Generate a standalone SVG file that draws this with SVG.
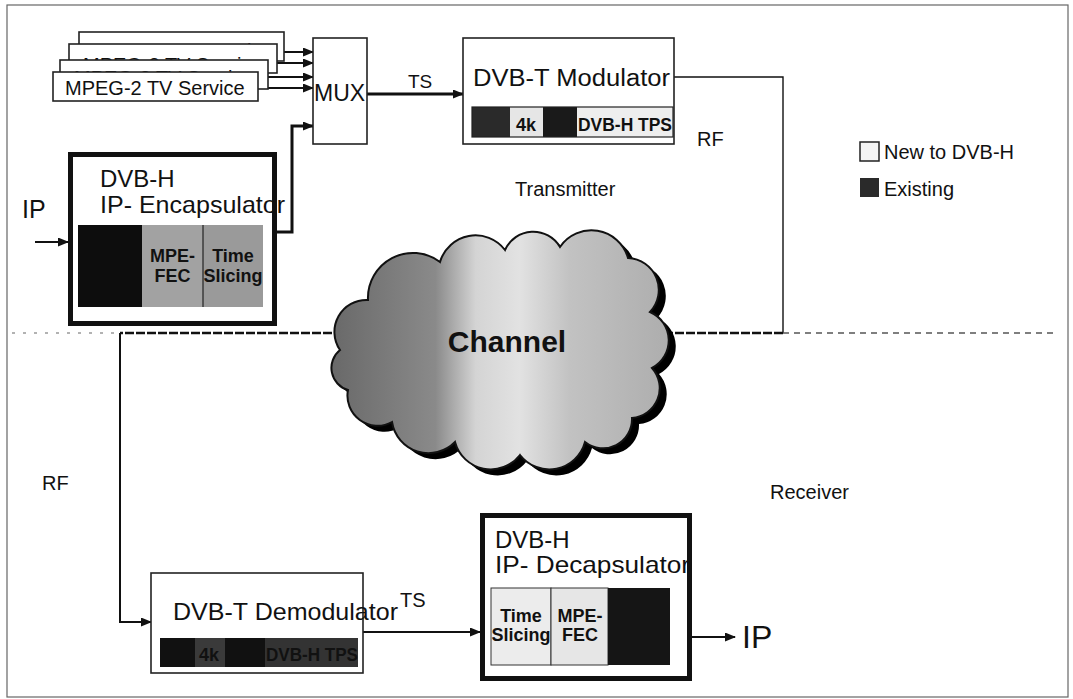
<svg xmlns="http://www.w3.org/2000/svg" width="1073" height="699" viewBox="0 0 1073 699">
<style>
text{font-family:"Liberation Sans",Arial,sans-serif;fill:#111}
.box{fill:#fff;stroke:#222;stroke-width:1.6}
.thick{fill:#fff;stroke:#111;stroke-width:5}
.lbl{font-size:24px}
.blk{font-weight:bold;font-size:18px}
.c{fill:none;stroke:#111;stroke-width:2}
.c3{fill:none;stroke:#111;stroke-width:3}
</style>
<defs>
<marker id="ah" markerUnits="userSpaceOnUse" markerWidth="11" markerHeight="9" refX="10" refY="4.5" orient="auto"><path d="M0,0 L11,4.5 L0,9 z" fill="#111"/></marker>
<linearGradient id="cg" gradientUnits="userSpaceOnUse" x1="335" y1="0" x2="670" y2="0">
<stop offset="0" stop-color="#6a6a6a"/><stop offset="0.3" stop-color="#8a8a8a"/><stop offset="0.42" stop-color="#d4d4d4"/><stop offset="0.55" stop-color="#e2e2e2"/><stop offset="0.7" stop-color="#c2c2c2"/><stop offset="1" stop-color="#adadad"/>
</linearGradient>
</defs>
<rect x="7" y="5" width="1061" height="692" fill="#fff" stroke="#666" stroke-width="1.2"/>

<g id="connectors">
<path class="c" d="M284,52 H313" marker-end="url(#ah)"/>
<path class="c" d="M277,63 H313" marker-end="url(#ah)"/>
<path class="c" d="M268,77 H313" marker-end="url(#ah)"/>
<path class="c" d="M258,88 H313" marker-end="url(#ah)"/>
<path class="c3" d="M277,232 H292 V126 H313" marker-end="url(#ah)"/>
<path class="c3" d="M367,94 H463" marker-end="url(#ah)"/>
<path class="c" d="M35,242 H68" marker-end="url(#ah)"/>
<path fill="none" stroke="#111" stroke-width="1.4" d="M674,77 H783 V333"/>
<path fill="none" stroke="#111" stroke-width="2.6" stroke-dasharray="9 2" d="M783,333 H120"/>
<path class="c" d="M120,333 V622 H151" marker-end="url(#ah)"/>
<path fill="none" stroke="#555" stroke-width="1.3" stroke-dasharray="6 5" d="M783,333 H1058"/>
<path fill="none" stroke="#999" stroke-width="1.3" stroke-dasharray="3 8" d="M12,333 H120"/>
<path class="c" d="M363,632 H480" marker-end="url(#ah)"/>
<path class="c" d="M692,637 H735" marker-end="url(#ah)"/>
</g>

<g id="mpeg-services">
<rect class="box" x="79" y="32" width="205" height="29"/>
<text x="93" y="58" font-size="20">MPEG-2 TV Service</text>
<rect class="box" x="69" y="44" width="208" height="29"/>
<text x="83" y="72" font-size="20">MPEG-2 TV Service</text>
<rect class="box" x="60" y="60" width="208" height="29"/>
<text x="74" y="85" font-size="20">MPEG-2 TV Service</text>
<rect class="box" x="53" y="72" width="205" height="29"/>
<text x="65" y="95" font-size="20">MPEG-2 TV Service</text>
</g>

<g id="mux">
<rect class="box" x="313" y="38" width="54" height="106"/>
<text x="314" y="101" font-size="23">MUX</text>
</g>

<g id="ts-label"><text x="408" y="88" font-size="19">TS</text></g>

<g id="modulator">
<rect class="box" x="463" y="38" width="211" height="106"/>
<text x="473" y="86" font-size="23" textLength="197" lengthAdjust="spacingAndGlyphs">DVB-T Modulator</text>
<rect x="472" y="107" width="38" height="30" fill="#2a2a2a"/>
<rect x="510" y="107" width="33" height="30" fill="#e6e6e6"/>
<rect x="543" y="107" width="34" height="30" fill="#1a1a1a"/>
<rect x="577" y="107" width="96" height="30" fill="#eeeeee"/>
<rect x="472" y="107" width="201" height="30" fill="none" stroke="#222" stroke-width="1.2"/>
<text class="blk" x="516" y="131" font-size="18">4k</text>
<text class="blk" x="578" y="131" font-size="18" textLength="94" lengthAdjust="spacingAndGlyphs">DVB-H TPS</text>
</g>

<g id="rf-tx"><text x="697" y="146" font-size="20">RF</text></g>
<g id="transmitter-label"><text x="515" y="196" font-size="20" fill="#222">Transmitter</text></g>

<g id="legend">
<rect x="860" y="142" width="19" height="19" fill="#f4f4f4" stroke="#222" stroke-width="1.5"/>
<text x="884" y="159" font-size="20">New to DVB-H</text>
<rect x="860" y="178" width="19" height="19" fill="#2a2a2a"/>
<text x="884" y="196" font-size="20">Existing</text>
</g>

<g id="ip-in"><text x="22" y="218" font-size="25">IP</text></g>

<g id="encapsulator">
<rect class="thick" x="70.5" y="154.5" width="204" height="169"/>
<text class="lbl" x="100" y="187">DVB-H</text>
<rect x="78" y="225" width="64" height="82" fill="#0d0d0d"/>
<rect x="142" y="225" width="61" height="82" fill="#a2a2a2"/>
<rect x="203" y="225" width="60" height="82" fill="#9a9a9a"/>
<line x1="203" y1="225" x2="203" y2="307" stroke="#222" stroke-width="1.2"/>
<text class="blk" x="172.5" y="262" text-anchor="middle" fill="#222">MPE-</text>
<text class="blk" x="172.5" y="282" text-anchor="middle" fill="#222">FEC</text>
<text class="blk" x="233" y="262" text-anchor="middle" fill="#222">Time</text>
<text class="blk" x="233" y="282" text-anchor="middle" fill="#222">Slicing</text>
<text class="lbl" x="100" y="213" textLength="185" lengthAdjust="spacingAndGlyphs">IP- Encapsulator</text>
</g>

<g id="channel">
<path transform="translate(7,6)" fill="#000" d="M340,350 A32,32 0 0 1 368,300 A45,45 0 0 1 440,262 A37,37 0 0 1 505,250 A31,31 0 0 1 560,247 A38,38 0 0 1 628,258 A32,32 0 0 1 650,312 A31,31 0 0 1 652,368 A30,30 0 0 1 632,418 A29,29 0 0 1 585,442 A37,37 0 0 1 520,455 A37,37 0 0 1 455,442 A37,37 0 0 1 392,422 A30,30 0 0 1 348,390 A23,23 0 0 1 340,350 Z"/>
<path fill="url(#cg)" stroke="#111" stroke-width="2" d="M340,350 A32,32 0 0 1 368,300 A45,45 0 0 1 440,262 A37,37 0 0 1 505,250 A31,31 0 0 1 560,247 A38,38 0 0 1 628,258 A32,32 0 0 1 650,312 A31,31 0 0 1 652,368 A30,30 0 0 1 632,418 A29,29 0 0 1 585,442 A37,37 0 0 1 520,455 A37,37 0 0 1 455,442 A37,37 0 0 1 392,422 A30,30 0 0 1 348,390 A23,23 0 0 1 340,350 Z"/>
<text x="507" y="352" font-size="30" font-weight="bold" text-anchor="middle">Channel</text>
</g>

<g id="rf-rx"><text x="42" y="490" font-size="20">RF</text></g>
<g id="receiver-label"><text x="770" y="499" font-size="20" fill="#222">Receiver</text></g>

<g id="demodulator">
<rect class="box" x="151" y="573" width="212" height="100"/>
<rect x="160" y="638" width="198" height="29" fill="#111"/>
<rect x="195" y="638" width="30" height="29" fill="#3a3a3a"/>
<rect x="265" y="638" width="93" height="29" fill="#333"/>
<text class="blk" x="199" y="661" fill="#9a9a9a">4k</text>
<text class="blk" x="266" y="661" fill="#9a9a9a" textLength="92" lengthAdjust="spacingAndGlyphs">DVB-H TPS</text>
<text x="173" y="620" font-size="24" textLength="225" lengthAdjust="spacingAndGlyphs">DVB-T Demodulator</text>
<text x="400" y="607" font-size="20">TS</text>
</g>

<g id="decapsulator">
<rect class="thick" x="482.5" y="515.5" width="207" height="163"/>
<text class="lbl" x="495" y="548">DVB-H</text>
<rect x="491" y="588" width="60" height="77" fill="#ececec" stroke="#333" stroke-width="1"/>
<rect x="551" y="588" width="57" height="77" fill="#e6e6e6" stroke="#333" stroke-width="1"/>
<rect x="608" y="588" width="62" height="77" fill="#151515"/>
<text class="blk" x="521" y="622" text-anchor="middle" font-size="17">Time</text>
<text class="blk" x="521" y="641" text-anchor="middle" font-size="17">Slicing</text>
<text class="blk" x="580" y="622" text-anchor="middle" font-size="17">MPE-</text>
<text class="blk" x="580" y="641" text-anchor="middle" font-size="17">FEC</text>
<text class="lbl" x="495" y="573" textLength="195" lengthAdjust="spacingAndGlyphs">IP- Decapsulator</text>
</g>

<g id="ip-out"><text x="742" y="648" font-size="32">IP</text></g>
</svg>
